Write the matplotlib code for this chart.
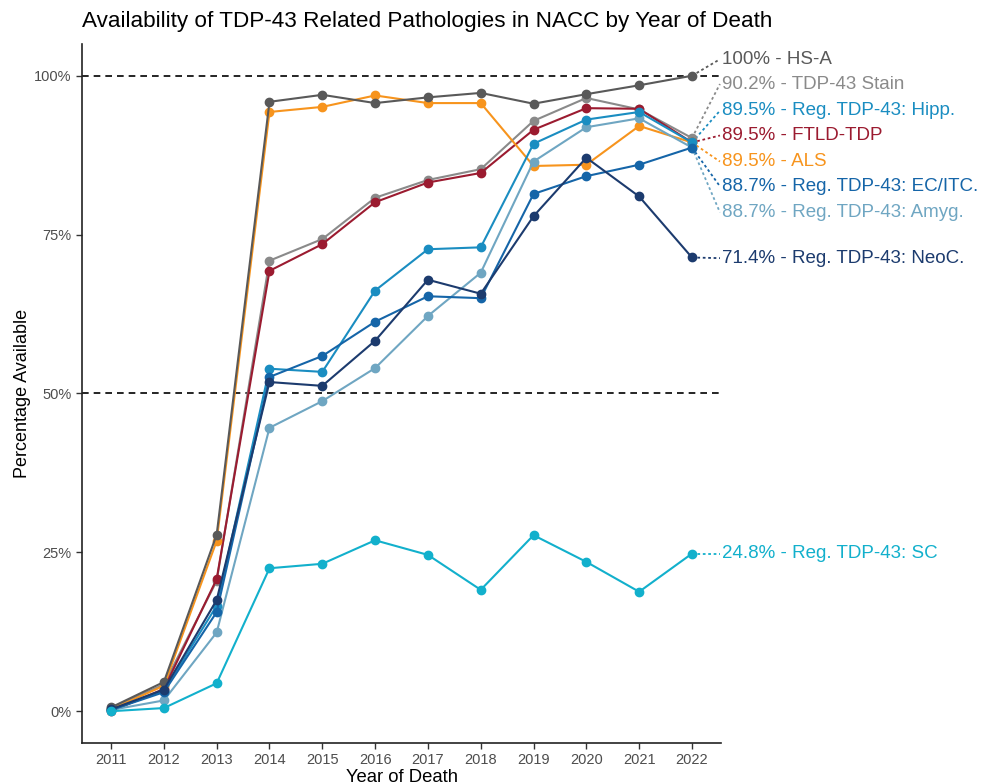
import matplotlib
matplotlib.use("Agg")
import matplotlib.pyplot as plt

plt.rcParams["font.family"] = ["Liberation Sans", "DejaVu Sans"]

years = [2011, 2012, 2013, 2014, 2015, 2016, 2017, 2018, 2019, 2020, 2021, 2022]

hs_a = [0.6, 4.6, 27.8, 95.9, 97.0, 95.7, 96.6, 97.3, 95.6, 97.1, 98.5, 100.0]
tdp_stain = [0.5, 4.2, 20.5, 70.9, 74.3, 80.8, 83.6, 85.3, 92.9, 96.5, 94.7, 90.2]
ftld_tdp = [0.0, 3.5, 20.8, 69.3, 73.5, 80.1, 83.2, 84.7, 91.5, 94.9, 94.8, 89.5]
als = [0.3, 4.0, 26.8, 94.3, 95.1, 96.9, 95.7, 95.7, 85.8, 86.0, 92.1, 89.5]
hipp = [0.2, 3.2, 16.6, 53.9, 53.4, 66.2, 72.7, 73.0, 89.3, 93.1, 94.3, 89.5]
ec_itc = [0.2, 3.0, 15.6, 52.6, 55.9, 61.3, 65.3, 65.0, 81.4, 84.2, 86.0, 88.7]
amyg = [0.2, 1.7, 12.4, 44.6, 48.8, 54.0, 62.2, 69.0, 86.5, 91.9, 93.3, 88.7]
neoc = [0.3, 3.4, 17.5, 51.8, 51.2, 58.3, 67.9, 65.7, 77.9, 87.1, 81.0, 71.4]
sc = [0.0, 0.5, 4.4, 22.5, 23.2, 26.9, 24.6, 19.1, 27.7, 23.5, 18.8, 24.8]

# name, values, colour, end label, label y (repelled)
series = [
    ("TDP-43 Stain", tdp_stain, "#8a8a8a", "90.2% - TDP-43 Stain", 98.7),
    ("FTLD-TDP", ftld_tdp, "#9b1b30", "89.5% - FTLD-TDP", 90.6),
    ("ALS", als, "#f7941d", "89.5% - ALS", 86.5),
    ("HS-A", hs_a, "#595959", "100% - HS-A", 102.6),
    ("Amyg", amyg, "#6fa6c2", "88.7% - Reg. TDP-43: Amyg.", 78.5),
    ("Hipp", hipp, "#1a8dc1", "89.5% - Reg. TDP-43: Hipp.", 94.5),
    ("EC/ITC", ec_itc, "#1565a8", "88.7% - Reg. TDP-43: EC/ITC.", 82.6),
    ("NeoC", neoc, "#1c3b6e", "71.4% - Reg. TDP-43: NeoC.", 71.3),
    ("SC", sc, "#12b0cc", "24.8% - Reg. TDP-43: SC", 24.8),
]

fig = plt.figure(figsize=(9.87, 7.84), dpi=100)
ax = fig.add_axes([0.0831, 0.0523, 0.6474, 0.8916])

ax.axhline(50, color="black", linestyle=(0, (4, 3)), linewidth=1.2, zorder=1)
ax.axhline(100, color="black", linestyle=(0, (4, 3)), linewidth=1.2, zorder=1)

for name, vals, color, label, ly in series:
    ax.plot(years, vals, color=color, linewidth=1.5, marker="o", markersize=6, zorder=3)
    ax.plot([years[-1], 2022.53], [vals[-1], ly], color=color, linewidth=1.3,
            linestyle=(0, (1.5, 1.5)), zorder=2, clip_on=False)
    ax.text(2022.56, ly, label, color=color, fontsize=13.5, va="center", ha="left",
            clip_on=False)

ax.set_xlim(2010.45, 2022.55)
ax.set_ylim(-5, 105)
ax.set_xticks(years)
ax.set_yticks([0, 25, 50, 75, 100])
ax.set_yticklabels(["0%", "25%", "50%", "75%", "100%"])
ax.tick_params(axis="both", colors="#333333", labelcolor="#4d4d4d", labelsize=10.5,
               length=4, width=1)
for side in ["top", "right"]:
    ax.spines[side].set_visible(False)
for side in ["left", "bottom"]:
    ax.spines[side].set_linewidth(1.2)
    ax.spines[side].set_color("#222222")

ax.set_xlabel("Year of Death", fontsize=13.3, labelpad=1)
ax.set_ylabel("Percentage Available", fontsize=13, labelpad=2)

fig.text(0.0831, 1 - 22 / 784, "Availability of TDP-43 Related Pathologies in NACC by Year of Death",
         fontsize=16.2, va="center", ha="left")

fig.savefig("out.png", dpi=100)
